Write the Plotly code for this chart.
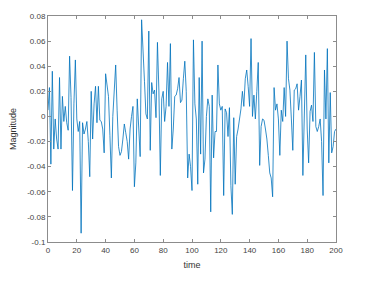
import plotly.graph_objects as go

# time samples 0..200
time = list(range(0, 201))
magnitude = [
    0.005, 0.023, -0.038, 0.036, -0.026, -0.002, -0.018, -0.026, 0.031, -0.026,   # 0-9
    0.016, -0.004, 0.008, -0.005, -0.011, 0.048, 0.015, -0.059, 0.010, 0.045,     # 10-19
    -0.002, -0.012, -0.004, -0.093, -0.005, -0.014, -0.010, -0.004, -0.020, -0.048,  # 20-29
    0.020, -0.018, 0.010, 0.024, -0.005, 0.024, -0.003, -0.004, -0.010, -0.029,   # 30-39
    0.034, 0.026, 0.016, -0.015, -0.049, 0.000, 0.020, 0.041, 0.005, -0.024,      # 40-49
    -0.031, -0.028, -0.018, -0.006, -0.013, -0.020, -0.034, -0.010, 0.000, 0.008,  # 50-59
    -0.056, -0.037, 0.014, -0.005, -0.032, 0.077, 0.045, 0.028, 0.002, -0.002,    # 60-69
    0.068, -0.027, 0.027, 0.018, 0.021, -0.001, 0.059, 0.021, -0.047, 0.014,      # 70-79
    0.020, -0.004, 0.008, 0.043, 0.008, 0.058, -0.026, -0.010, 0.016, 0.017,      # 80-89
    0.022, 0.031, 0.011, 0.013, 0.030, 0.044, 0.020, -0.049, -0.030, -0.040,      # 90-99
    -0.059, 0.061, 0.010, -0.002, -0.054, 0.031, -0.030, 0.060, -0.045, -0.034,   # 100-109
    0.000, 0.014, 0.008, -0.076, 0.017, -0.033, -0.012, -0.012, 0.041, 0.010,     # 110-119
    0.005, 0.008, -0.063, 0.006, 0.003, -0.016, 0.007, -0.055, -0.078, -0.001,    # 120-129
    -0.054, -0.016, -0.010, -0.002, 0.006, 0.020, 0.008, 0.030, 0.037, 0.024,     # 130-139
    0.008, 0.062, 0.000, 0.017, -0.002, 0.020, 0.043, -0.039, -0.008, -0.002,     # 140-149
    -0.003, -0.010, -0.018, -0.031, -0.045, -0.049, -0.064, 0.023, 0.005, 0.010,  # 150-159
    -0.002, -0.031, 0.005, -0.004, 0.023, 0.000, 0.060, 0.030, 0.021, -0.002,     # 160-169
    -0.027, 0.021, 0.022, 0.026, 0.005, 0.016, 0.029, -0.047, 0.008, 0.049,       # 170-179
    -0.010, -0.037, 0.004, 0.009, -0.004, 0.051, -0.008, -0.012, -0.008, -0.002,  # 180-189
    -0.020, -0.063, 0.037, -0.002, 0.054, -0.037, 0.019, -0.029, -0.024, -0.012,  # 190-199
    -0.010,                                                                        # 200
]

x_ticks = [0, 20, 40, 60, 80, 100, 120, 140, 160, 180, 200]
y_ticks = [0.08, 0.06, 0.04, 0.02, 0, -0.02, -0.04, -0.06, -0.08, -0.1]
y_tick_labels = ["0.08", "0.06", "0.04", "0.02", "0", "-0.02", "-0.04", "-0.06", "-0.08", "-0.1"]

fig = go.Figure()
fig.add_trace(go.Scatter(
    x=time, y=magnitude, mode="lines",
    line=dict(color="#0072BD", width=0.8),
    showlegend=False,
))

axis_common = dict(
    showline=True, linecolor="#8c8c8c", linewidth=1, mirror="ticks",
    ticks="inside", ticklen=3, tickcolor="#8c8c8c", tickwidth=1,
    showgrid=False, zeroline=False,
    tickfont=dict(family="Liberation Sans, Arial", size=8, color="#444444"),
)

fig.update_xaxes(
    range=[0, 200], tickvals=x_ticks, ticktext=[str(v) for v in x_ticks],
    title=dict(text="time", font=dict(family="Liberation Sans, Arial", size=9, color="#333333"), standoff=8),
    **axis_common,
)
fig.update_yaxes(
    range=[-0.1, 0.08], tickvals=y_ticks, ticktext=y_tick_labels,
    title=dict(text="Magnitude", font=dict(family="Liberation Sans, Arial", size=9, color="#333333"), standoff=9),
    **axis_common,
)

fig.update_layout(
    width=365, height=281,
    margin=dict(l=48, r=29, t=15, b=38),
    paper_bgcolor="white", plot_bgcolor="white",
)

fig.write_html("out.html")
